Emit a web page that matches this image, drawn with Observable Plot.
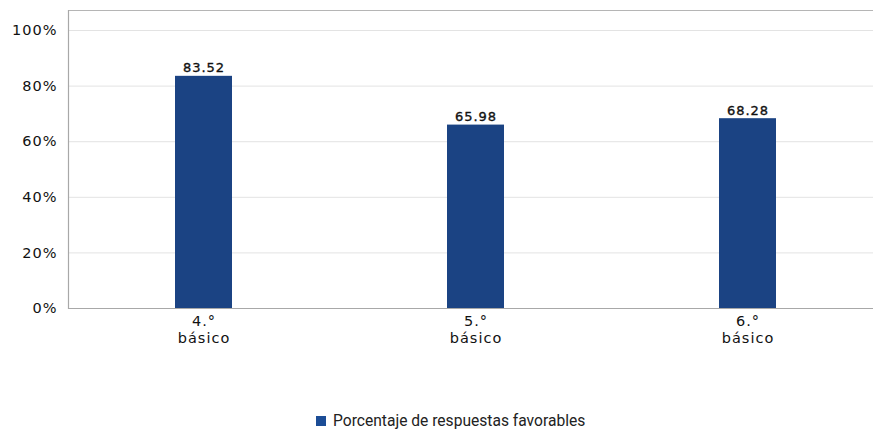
<!DOCTYPE html>
<html>
<head>
<meta charset="utf-8">
<script src="https://cdn.jsdelivr.net/npm/d3@7"></script>
<script src="https://cdn.jsdelivr.net/npm/@observablehq/plot@0.6"></script>
<style>
  html, body { margin: 0; padding: 0; background: #fff; overflow: hidden; }
  #chart { width: 873px; }
  .legend { position: absolute; left: 316px; top: 412px; display: flex; align-items: center;
    font-family: Roboto, sans-serif; font-size: 15.6px; color: #222; }
  .legend .sw { width: 10px; height: 10px; background: #1c4d96; margin-right: 7px; }
</style>
</head>
<body>
<div id="chart"></div>
<div class="legend"><div class="sw"></div><span>Porcentaje de respuestas favorables</span></div>
<script>
const categories = ["4.° básico", "5.° básico", "6.° básico"];
const values = [83.52, 65.98, 68.28];
const yTicks = [0, 20, 40, 60, 80, 100];
const seriesName = "Porcentaje de respuestas favorables";

const data = categories.map((c, i) => ({category: c, value: values[i]}));
const barColor = "#1b4383";

const chart = Plot.plot({
  width: 873,
  height: 360,
  marginTop: 10,
  marginBottom: 52,
  marginLeft: 68,
  marginRight: 0,
  style: {fontFamily: "'DejaVu Sans', sans-serif", fontSize: "13px", color: "#222", background: "#fff"},
  x: {domain: categories, range: [68, 884], paddingInner: 0.79, paddingOuter: 0.395, align: 0.5, label: null},
  y: {domain: [0, 107.2], label: null},
  marks: [
    Plot.ruleY(yTicks.slice(1), {stroke: "#e3e3e3", strokeWidth: 1}),
    Plot.barY(data, {x: "category", y: "value", fill: barColor}),
    Plot.text(data, {x: "category", y: "value", text: d => d.value.toFixed(2), dy: -8,
      fill: "#111", stroke: "#111", strokeWidth: 0.35, fontSize: 13}),
    Plot.ruleY([107.2], {stroke: "#b5b5b5", strokeWidth: 1.2}),
    Plot.ruleY([0], {stroke: "#a8a8a8", strokeWidth: 1.2}),
    Plot.frame({anchor: "left", stroke: "#a8a8a8", strokeWidth: 1.2}),
    Plot.axisY(yTicks, {tickSize: 0, tickPadding: 11, tickFormat: d => d + "%", fill: "#111", stroke: "#111", strokeWidth: 0.25, fontSize: 14.5, label: null}),
    Plot.axisX({tickSize: 0, tickPadding: 5, lineHeight: 1.2, tickFormat: d => d.replace(" ", "\n"), fill: "#111", stroke: "#111", strokeWidth: 0.25, fontSize: 14.5, label: null})
  ]
});
chart.querySelectorAll("text").forEach(t => t.setAttribute("letter-spacing", "1"));
document.getElementById("chart").appendChild(chart);
</script>
</body>
</html>
